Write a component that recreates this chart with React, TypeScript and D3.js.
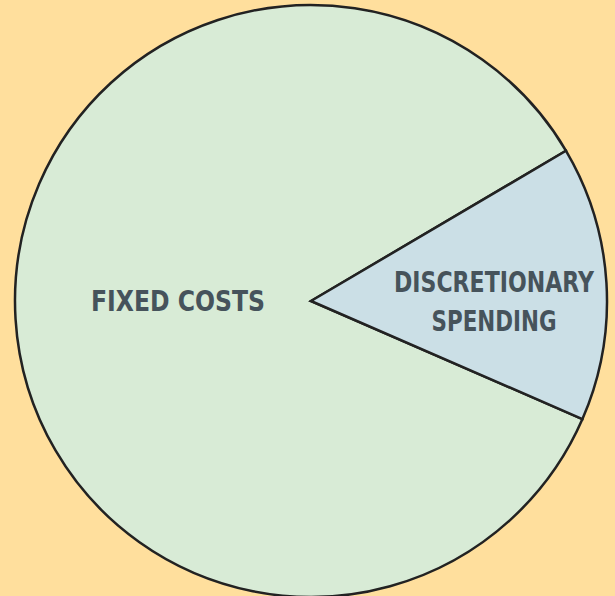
import React, { useEffect } from "react";
import * as d3 from "d3";

const categories = ["FIXED COSTS", "DISCRETIONARY SPENDING"];
const values = [85, 15];
const labelLines = [["FIXED COSTS"], ["DISCRETIONARY", "SPENDING"]];
const colors = ["#d8ebd6", "#cbdfe6"];

const W = 615;
const H = 596;
// rendered widths of each label line (style)
const lineWidths = [[174], [200, 125]];

export default function App() {
  useEffect(() => {
    document.body.style.margin = "0";
    document.body.style.background = "#ffdf9d";
  }, []);
  const cx = 311;
  const cy = 301;
  const r = 296;
  const start = (113.5 * Math.PI) / 180;
  const pie = d3
    .pie<number>()
    .sort(null)
    .startAngle(start)
    .endAngle(start + 2 * Math.PI);
  const arcs = pie(values);
  const arc = d3.arc<d3.PieArcDatum<number>>().innerRadius(0).outerRadius(r);
  const labelR = [133, 183];
  const labelAngle = [-Math.PI / 2, Math.PI / 2];
  return (
    <svg width={W} height={H} style={{ display: "block", position: "absolute", left: 0, top: 0 }}>
      <rect x={0} y={0} width={W} height={H} fill="#ffdf9d" />
      <g transform={`translate(${cx},${cy})`}>
        {arcs.map((a, i) => (
          <path key={categories[i]} d={arc(a) || ""} fill={colors[i]} stroke="#222" strokeWidth={2.5} strokeLinejoin="miter" />
        ))}
        {arcs.map((a, i) => {
          const x = labelR[i] * Math.sin(labelAngle[i]);
          const y = -labelR[i] * Math.cos(labelAngle[i]);
          const lines = labelLines[i];
          const lh = 39;
          return (
            <g key={"l" + i}>
              {lines.map((t, j) => (
                <text
                  key={j}
                  x={x}
                  y={y + (j - (lines.length - 1) / 2) * lh}
                  dy="0.36em"
                  textAnchor="middle"
                  fontFamily="'DejaVu Sans', sans-serif"
                  fontWeight="bold"
                  fontSize={28.5}
                  fill="#46535b"
                  textLength={lineWidths[i][j]}
                  lengthAdjust="spacingAndGlyphs"
                >
                  {t}
                </text>
              ))}
            </g>
          );
        })}
      </g>
    </svg>
  );
}
